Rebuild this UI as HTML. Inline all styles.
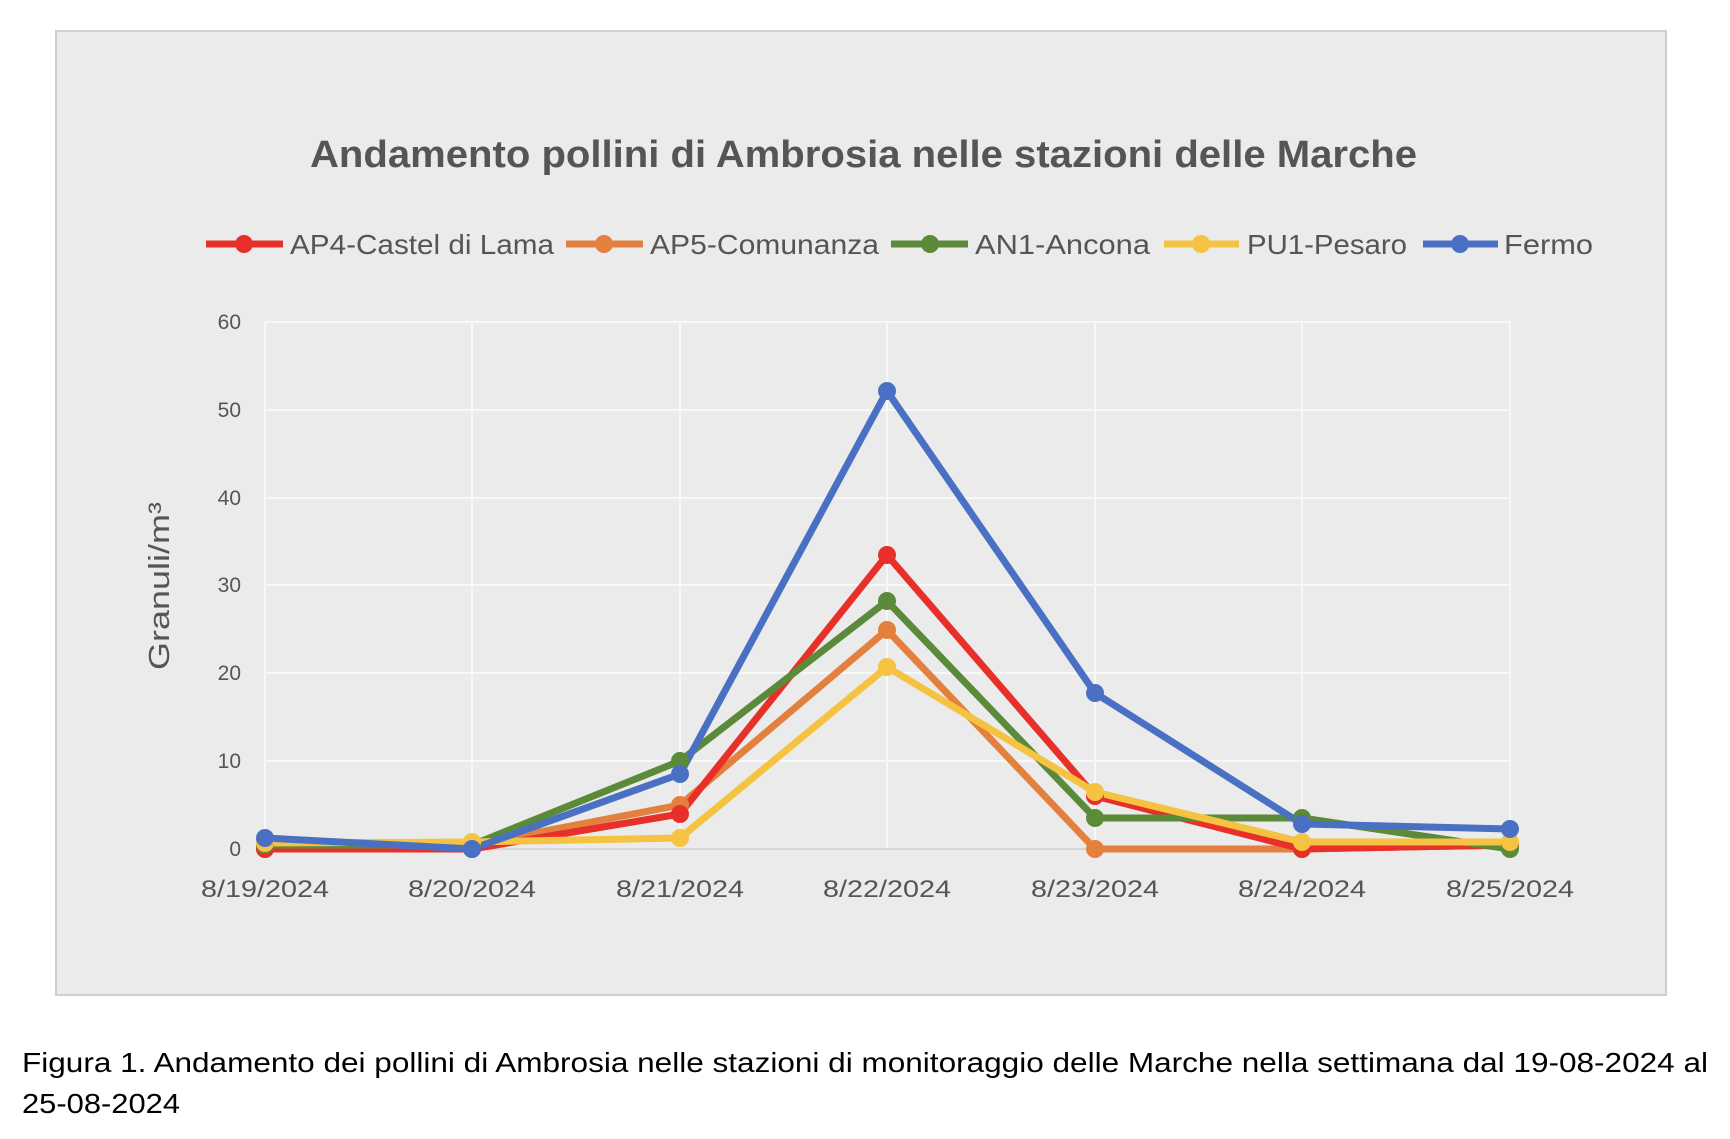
<!DOCTYPE html>
<html><head><style>
body{margin:0;background:#fff;width:1730px;height:1134px;overflow:hidden;font-family:"Liberation Sans",sans-serif;}
</style></head><body>
<svg width="1730" height="1134" xmlns="http://www.w3.org/2000/svg" font-family="Liberation Sans, sans-serif">
<rect x="56" y="31" width="1610" height="964" fill="#ebebeb" stroke="#cfcfcf" stroke-width="2"/>
<text x="310" y="167" textLength="1107" lengthAdjust="spacingAndGlyphs" font-size="38" font-weight="bold" fill="#555">Andamento pollini di Ambrosia nelle stazioni delle Marche</text>
<g font-size="28" fill="#555">
<line x1="206" y1="244" x2="283" y2="244" stroke="#e8302a" stroke-width="7"/><circle cx="244" cy="244" r="9" fill="#e8302a"/><text x="290" y="254" textLength="264" lengthAdjust="spacingAndGlyphs">AP4-Castel di Lama</text>
<line x1="566" y1="244" x2="643" y2="244" stroke="#e3803e" stroke-width="7"/><circle cx="604" cy="244" r="9" fill="#e3803e"/><text x="650" y="254" textLength="229" lengthAdjust="spacingAndGlyphs">AP5-Comunanza</text>
<line x1="891" y1="244" x2="968" y2="244" stroke="#5b8a3a" stroke-width="7"/><circle cx="930" cy="244" r="9" fill="#5b8a3a"/><text x="975" y="254" textLength="175" lengthAdjust="spacingAndGlyphs">AN1-Ancona</text>
<line x1="1164" y1="244" x2="1239" y2="244" stroke="#f5c242" stroke-width="7"/><circle cx="1201" cy="244" r="9" fill="#f5c242"/><text x="1247" y="254" textLength="160" lengthAdjust="spacingAndGlyphs">PU1-Pesaro</text>
<line x1="1423" y1="244" x2="1498" y2="244" stroke="#4a70c4" stroke-width="7"/><circle cx="1460" cy="244" r="9" fill="#4a70c4"/><text x="1504" y="254" textLength="89" lengthAdjust="spacingAndGlyphs">Fermo</text>
</g>
<g stroke="#f8f8f8" stroke-width="2">
<line x1="265" y1="322" x2="1510" y2="322"/><line x1="265" y1="410" x2="1510" y2="410"/><line x1="265" y1="498" x2="1510" y2="498"/><line x1="265" y1="585" x2="1510" y2="585"/><line x1="265" y1="673" x2="1510" y2="673"/><line x1="265" y1="761" x2="1510" y2="761"/>
<line x1="265" y1="322" x2="265" y2="849"/><line x1="472" y1="322" x2="472" y2="849"/><line x1="680" y1="322" x2="680" y2="849"/><line x1="887" y1="322" x2="887" y2="849"/><line x1="1095" y1="322" x2="1095" y2="849"/><line x1="1302" y1="322" x2="1302" y2="849"/><line x1="1510" y1="322" x2="1510" y2="849"/>
</g>
<line x1="265" y1="849" x2="1510" y2="849" stroke="#d6d6d6" stroke-width="2"/>
<g font-size="21" fill="#555" text-anchor="end">
<text x="241" y="329">60</text><text x="241" y="417">50</text><text x="241" y="505">40</text><text x="241" y="592">30</text><text x="241" y="680">20</text><text x="241" y="768">10</text><text x="241" y="856">0</text>
</g>
<g font-size="24" fill="#555">
<text x="201" y="897" textLength="128" lengthAdjust="spacingAndGlyphs">8/19/2024</text><text x="408" y="897" textLength="128" lengthAdjust="spacingAndGlyphs">8/20/2024</text><text x="616" y="897" textLength="128" lengthAdjust="spacingAndGlyphs">8/21/2024</text><text x="823" y="897" textLength="128" lengthAdjust="spacingAndGlyphs">8/22/2024</text><text x="1031" y="897" textLength="128" lengthAdjust="spacingAndGlyphs">8/23/2024</text><text x="1238" y="897" textLength="128" lengthAdjust="spacingAndGlyphs">8/24/2024</text><text x="1446" y="897" textLength="128" lengthAdjust="spacingAndGlyphs">8/25/2024</text>
</g>
<text transform="translate(169,670) rotate(-90)" textLength="168" lengthAdjust="spacingAndGlyphs" font-size="29" fill="#555">Granuli/m³</text>
<g fill="none" stroke-width="7" stroke-linejoin="round">
<polyline stroke="#e3803e" points="265,849 472,845 680,805 887,630 1095,849 1302,849 1510,845"/>
<polyline stroke="#e8302a" points="265,849 472,849 680,814 887,555 1095,796 1302,849 1510,845"/>
<polyline stroke="#5b8a3a" points="265,845 472,845 680,761 887,601 1095,818 1302,818 1510,849"/>
<polyline stroke="#f5c242" points="265,843 472,842 680,838 887,667 1095,792 1302,842 1510,842"/>
<polyline stroke="#4a70c4" points="265,838 472,849 680,774 887,391 1095,693 1302,824 1510,829"/>
</g>
<g fill="#e3803e"><circle cx="265" cy="849" r="9"/><circle cx="472" cy="845" r="9"/><circle cx="680" cy="805" r="9"/><circle cx="887" cy="630" r="9"/><circle cx="1095" cy="849" r="9"/><circle cx="1302" cy="849" r="9"/><circle cx="1510" cy="845" r="9"/></g>
<g fill="#e8302a"><circle cx="265" cy="849" r="9"/><circle cx="472" cy="849" r="9"/><circle cx="680" cy="814" r="9"/><circle cx="887" cy="555" r="9"/><circle cx="1095" cy="796" r="9"/><circle cx="1302" cy="849" r="9"/><circle cx="1510" cy="845" r="9"/></g>
<g fill="#5b8a3a"><circle cx="265" cy="845" r="9"/><circle cx="472" cy="845" r="9"/><circle cx="680" cy="761" r="9"/><circle cx="887" cy="601" r="9"/><circle cx="1095" cy="818" r="9"/><circle cx="1302" cy="818" r="9"/><circle cx="1510" cy="849" r="9"/></g>
<g fill="#f5c242"><circle cx="265" cy="843" r="9"/><circle cx="472" cy="842" r="9"/><circle cx="680" cy="838" r="9"/><circle cx="887" cy="667" r="9"/><circle cx="1095" cy="792" r="9"/><circle cx="1302" cy="842" r="9"/><circle cx="1510" cy="842" r="9"/></g>
<g fill="#4a70c4"><circle cx="265" cy="838" r="9"/><circle cx="472" cy="849" r="9"/><circle cx="680" cy="774" r="9"/><circle cx="887" cy="391" r="9"/><circle cx="1095" cy="693" r="9"/><circle cx="1302" cy="824" r="9"/><circle cx="1510" cy="829" r="9"/></g>
<g font-size="28" fill="#000">
<text x="22" y="1072" textLength="1686" lengthAdjust="spacingAndGlyphs">Figura 1. Andamento dei pollini di Ambrosia nelle stazioni di monitoraggio delle Marche nella settimana dal 19-08-2024 al</text>
<text x="22" y="1113" textLength="158" lengthAdjust="spacingAndGlyphs">25-08-2024</text>
</g>
</svg>
</body></html>
